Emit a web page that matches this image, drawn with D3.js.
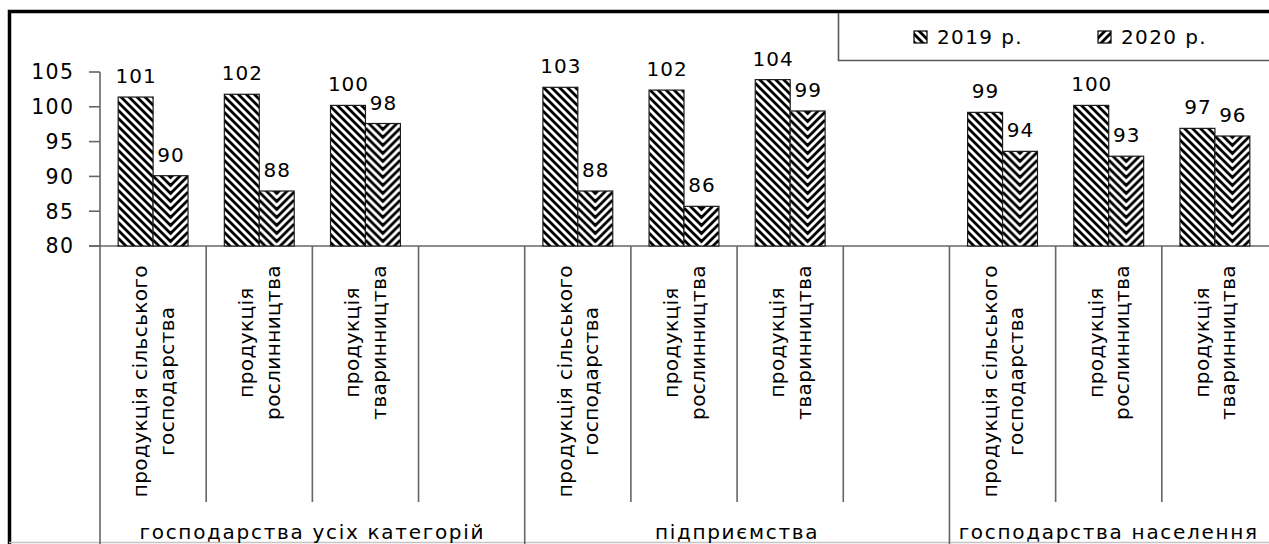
<!DOCTYPE html>
<html><head><meta charset="utf-8">
<script src="https://cdn.jsdelivr.net/npm/d3@7"></script>
<style>html,body{margin:0;padding:0;background:#fff;overflow:hidden} svg{display:block;font-family:"DejaVu Sans",sans-serif;}</style>
</head><body><svg id="c" width="1269" height="544"></svg>
<script>
const categoryLabels = [
  "продукція сільського|господарства", "продукція|рослинництва", "продукція|тваринництва", "",
  "продукція сільського|господарства", "продукція|рослинництва", "продукція|тваринництва", "",
  "продукція сільського|господарства", "продукція|рослинництва", "продукція|тваринництва"
];
const categoryGroupIndex = [0,0,0,0, 1,1,1,1, 2,2,2];
const groupNames = ["господарства усіх категорій", "підприємства", "господарства населення"];
const seriesNames = ["2019 р.", "2020 р."];
const values2019 = [101.4, 101.8, 100.2, null, 102.8, 102.4, 103.9, null, 99.2, 100.2, 96.9];
const values2020 = [90.1, 87.9, 97.6, null, 87.9, 85.7, 99.4, null, 93.6, 92.9, 95.8];
const yTicks = [80, 85, 90, 95, 100, 105];

const FS = 20;
const svg = d3.select("#c");
const defs = svg.append("defs");
const fmt = d3.format(".0f");

const y = d3.scaleLinear().domain([80, 105]).range([246, 72]);
const x = d3.scaleBand().domain(d3.range(categoryLabels.length)).range([100, 1268]);
const xs = d3.scaleBand().domain(seriesNames).range([0, x.bandwidth()]).paddingOuter(0.52);
const bw = xs.bandwidth();

// patterns
function diagPattern(id, d) {
  const p = defs.append("pattern").attr("id", id).attr("patternUnits", "userSpaceOnUse")
    .attr("width", 8).attr("height", 8);
  p.append("rect").attr("width", 8).attr("height", 8).attr("fill", "#fff");
  p.append("path").attr("d", d).attr("stroke", "#000").attr("stroke-width", 2.8).attr("fill", "none");
}
diagPattern("p2019", "M-4,-4L12,12M-4,4L4,12M4,-4L12,4");
diagPattern("p2020", "M-4,12L12,-4M-4,4L4,-4M4,12L12,4");

values2020.forEach((v, i) => {
  if (v == null) return;
  const bx = x(i) + xs(seriesNames[1]);
  const p = defs.append("pattern").attr("id", "v" + i).attr("patternUnits", "userSpaceOnUse")
    .attr("x", bx).attr("y", 0).attr("width", bw).attr("height", 8);
  p.append("rect").attr("width", bw).attr("height", 8).attr("fill", "#fff");
  let dd = "";
  for (let k = -4; k <= 1; k++) dd += `M0,${k*8}L${bw/2},${k*8 + bw/2}L${bw},${k*8}`;
  p.append("path").attr("d", dd).attr("stroke", "#000").attr("stroke-width", 2.8)
    .attr("fill", "none").attr("stroke-linejoin", "miter");
});

// frame
svg.append("path").attr("d", "M9.5,544V11.5H1269").attr("fill", "none").attr("stroke", "#000").attr("stroke-width", 3.5);
svg.append("line").attr("x1", 9).attr("x2", 1269).attr("y1", 542.5).attr("y2", 542.5).attr("stroke", "#c4c4c4").attr("stroke-width", 1.5);

// legend box
svg.append("path").attr("d", "M838.5,13V60.5H1269").attr("fill", "none").attr("stroke", "#5a5a5a").attr("stroke-width", 1.6);
const legX = [914, 1098];
seriesNames.forEach((s, i) => {
  svg.append("rect").attr("x", legX[i]).attr("y", 31).attr("width", 13).attr("height", 12)
    .attr("fill", i === 0 ? "url(#p2019)" : "url(#p2020)").attr("stroke", "#000").attr("stroke-width", 1.2);
  svg.append("text").attr("x", legX[i] + 23).attr("y", 44).attr("font-size", FS)
    .attr("letter-spacing", 1.4).attr("fill", "#000").text(s);
});

// axes lines
const axisColor = "#666";
svg.append("line").attr("x1", 100).attr("x2", 100).attr("y1", y(105)).attr("y2", y(80)).attr("stroke", axisColor).attr("stroke-width", 1.6);
svg.selectAll(".tick").data(yTicks).join("line").attr("x1", 89).attr("x2", 100)
  .attr("y1", d => y(d)).attr("y2", d => y(d)).attr("stroke", axisColor).attr("stroke-width", 1.6);
svg.selectAll(".ytl").data(yTicks).join("text").attr("x", 74.5).attr("y", d => y(d))
  .attr("dy", "0.36em").attr("text-anchor", "end").attr("font-size", FS + 0.5)
  .attr("letter-spacing", 1.4).attr("fill", "#000").text(d => d);
svg.append("line").attr("x1", 89).attr("x2", 1269).attr("y1", y(80)).attr("y2", y(80)).attr("stroke", axisColor).attr("stroke-width", 1.6);

// separators
const boundaries = d3.range(categoryLabels.length);
svg.selectAll(".sep").data(boundaries).join("line")
  .attr("x1", i => x(i)).attr("x2", i => x(i))
  .attr("y1", y(80))
  .attr("y2", i => (i === 0 || categoryGroupIndex[i] !== categoryGroupIndex[i - 1]) ? 544 : 502)
  .attr("stroke", axisColor).attr("stroke-width", 1.6);

// bars
const bars2019 = values2019.map((v, i) => ({v, i})).filter(d => d.v != null);
const bars2020 = values2020.map((v, i) => ({v, i})).filter(d => d.v != null);
svg.selectAll(".b19").data(bars2019).join("rect")
  .attr("x", d => x(d.i) + xs(seriesNames[0])).attr("y", d => y(d.v))
  .attr("width", bw).attr("height", d => y(80) - y(d.v))
  .attr("fill", "url(#p2019)").attr("stroke", "#1a1a1a").attr("stroke-width", 1.2);
svg.selectAll(".b20").data(bars2020).join("rect")
  .attr("x", d => x(d.i) + xs(seriesNames[1])).attr("y", d => y(d.v))
  .attr("width", bw).attr("height", d => y(80) - y(d.v))
  .attr("fill", d => `url(#v${d.i})`).attr("stroke", "#1a1a1a").attr("stroke-width", 1.2);

// data labels
[[bars2019, 0], [bars2020, 1]].forEach(([arr, si]) => {
  svg.selectAll(".dl" + si).data(arr).join("text")
    .attr("x", d => x(d.i) + xs(seriesNames[si]) + bw / 2 + 0.5)
    .attr("y", d => y(d.v) - 14)
    .attr("text-anchor", "middle").attr("font-size", FS).attr("letter-spacing", 1)
    .attr("fill", "#000")
    .text(d => fmt(d.v));
});

// category labels (rotated)
categoryLabels.forEach((lab, i) => {
  if (!lab) return;
  const lines = lab.split("|");
  const g = svg.append("g");
  const offs = lines.length === 2 ? [-6, 20.5] : [7];
  const texts = lines.map((t, k) => g.append("text").attr("x", 0).attr("y", offs[k])
    .attr("text-anchor", "middle").attr("font-size", FS).attr("letter-spacing", 0.4)
    .attr("fill", "#000").text(t));
  const maxLen = d3.max(texts, t => t.node().getComputedTextLength());
  g.attr("transform", `translate(${x(i) + x.bandwidth() / 2},${265 + maxLen / 2}) rotate(-90)`);
});

// group labels
groupNames.forEach((name, gi) => {
  const idx = categoryGroupIndex.map((g, i) => g === gi ? i : -1).filter(i => i >= 0);
  const x0 = x(idx[0]), x1 = x(idx[idx.length - 1]) + x.bandwidth();
  svg.append("text").attr("x", (x0 + x1) / 2).attr("y", 539).attr("text-anchor", "middle")
    .attr("font-size", FS).attr("letter-spacing", 1.7).attr("fill", "#000").text(name);
});
</script></body></html>
